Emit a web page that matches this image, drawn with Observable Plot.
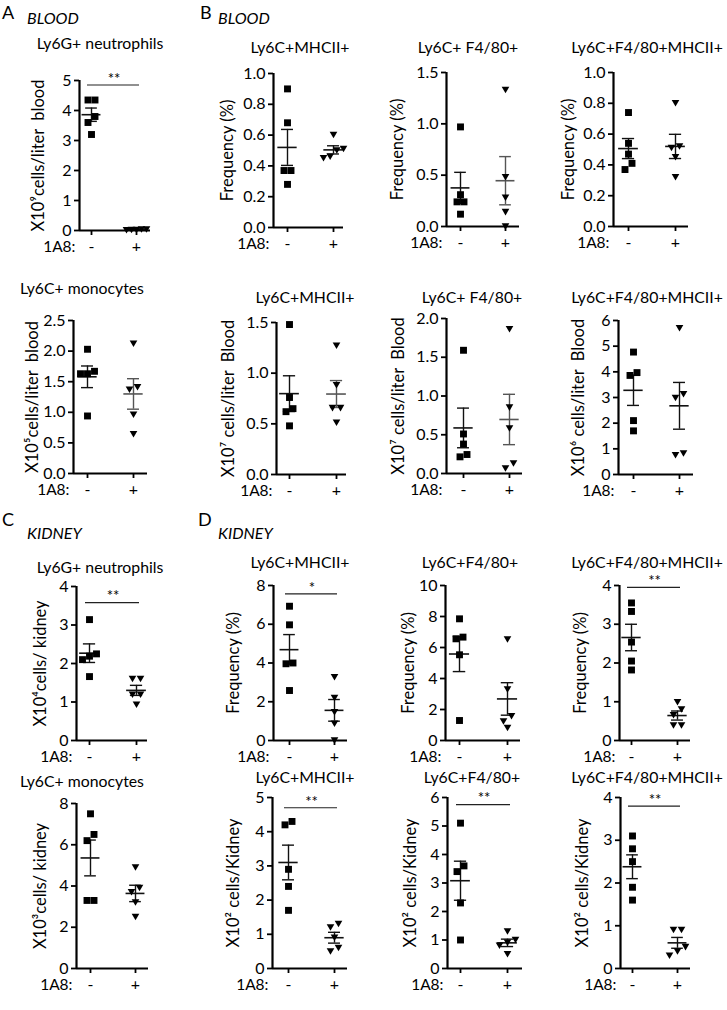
<!DOCTYPE html>
<html><head><meta charset="utf-8">
<script src="https://cdn.jsdelivr.net/npm/d3@7"></script>
<script src="https://cdn.jsdelivr.net/npm/@observablehq/plot@0.6"></script>
<style>
body{margin:0;background:#fff;}
#fig{position:relative;width:727px;height:1010px;font-family:Lato,"Open Sans",sans-serif;color:#000;overflow:hidden;}
.abs{position:absolute;white-space:nowrap;line-height:1;}
.letter{font-size:18px;}
.tissue{font-size:16px;font-style:italic;}
.title{font-size:15.8px;transform:translate(-50%,-50%);}
#fig svg{position:absolute;overflow:visible;}
</style></head><body><div id="fig"></div>
<script>
// ---------------- DATA ----------------
const groupLabels = ["-", "+"];
const xAxisLabel = "1A8:";
const sectionLetters = ["A", "B", "C", "D"];
const sectionTissues = ["BLOOD", "BLOOD", "KIDNEY", "KIDNEY"];
const titles = [
  "Ly6G+ neutrophils", "Ly6C+MHCII+", "Ly6C+ F4/80+", "Ly6C+F4/80+MHCII+",
  "Ly6C+ monocytes", "Ly6C+MHCII+", "Ly6C+ F4/80+", "Ly6C+F4/80+MHCII+",
  "Ly6G+ neutrophils", "Ly6C+MHCII+", "Ly6C+F4/80+", "Ly6C+F4/80+MHCII+",
  "Ly6C+ monocytes", "Ly6C+MHCII+", "Ly6C+F4/80+", "Ly6C+F4/80+MHCII+"
];
const yLabels = [
  "X10⁹cells/liter  blood", "Frequency (%)", "Frequency (%)", "Frequency (%)",
  "X10⁵cells/liter  blood", "X10⁷ cells/liter  Blood", "X10⁷ cells/liter  Blood", "X10⁶ cells/liter  Blood",
  "X10⁴cells/ kidney", "Frequency (%)", "Frequency (%)", "Frequency (%)",
  "X10³cells/ kidney", "X10² cells/Kidney", "X10² cells/Kidney", "X10² cells/Kidney"
];
const yMax  = [5, 1, 1.5, 1,   2.5, 1.5, 2, 6,   4, 8, 10, 4,   8, 5, 6, 4];
const yStep = [1, 0.2, 0.5, 0.2, 0.5, 0.5, 0.5, 1, 1, 2, 2, 1,   2, 1, 1, 1];
const minusValues = [
  [4.35, 4.35, 3.8, 3.6, 3.2],
  [0.90, 0.68, 0.37, 0.37, 0.28],
  [0.97, 0.31, 0.24, 0.24, 0.12],
  [0.74, 0.54, 0.47, 0.41, 0.37],
  [2.03, 1.67, 1.63, 1.63, 0.94],
  [1.48, 0.76, 0.65, 0.62, 0.48],
  [1.59, 0.51, 0.38, 0.245, 0.215],
  [4.77, 3.97, 3.86, 2.10, 1.70],
  [3.14, 2.25, 2.19, 2.10, 1.66],
  [6.93, 5.97, 4.00, 3.96, 2.58],
  [7.85, 6.67, 6.56, 5.53, 1.29],
  [3.55, 3.33, 2.54, 2.05, 1.82],
  [7.5, 6.5, 6.2, 3.3, 3.3],
  [4.3, 4.2, 2.9, 2.4, 1.7],
  [5.1, 3.6, 3.4, 2.3, 1.0],
  [3.1, 2.8, 2.5, 1.9, 1.6]
];
const plusValues = [
  [0.03, 0.03, 0.02, 0.02, 0.01],
  [0.60, 0.51, 0.50, 0.46, 0.45],
  [1.33, 0.48, 0.28, 0.14, 0.0],
  [0.80, 0.52, 0.51, 0.45, 0.32],
  [2.12, 1.41, 1.37, 0.96, 0.64],
  [1.27, 0.88, 0.655, 0.655, 0.51],
  [1.86, 0.85, 0.58, 0.13, 0.065],
  [5.70, 3.13, 2.98, 0.82, 0.75],
  [1.60, 1.60, 1.19, 1.19, 0.93],
  [3.27, 2.19, 1.46, 0.86, 0.0],
  [6.52, 3.29, 1.57, 1.23, 0.80],
  [0.99, 0.80, 0.65, 0.39, 0.39],
  [4.9, 3.9, 3.7, 3.2, 2.5],
  [1.3, 1.2, 0.9, 0.6, 0.5],
  [1.3, 1.0, 0.9, 0.8, 0.5],
  [0.9, 0.9, 0.5, 0.4, 0.3]
];
const sigLabels = ["**", "", "", "",  "", "", "", "",  "**", "*", "", "**",  "", "**", "**", "**"];
const sigLevels = [4.85, null, null, null, null, null, null, null, 3.58, 7.57, null, 3.95, null, 4.7, 5.75, 3.8];

// ---------------- LAYOUT (pixels in page) ----------------
// ax: y-axis x, bx: x-axis end, yt: top tick y, yb: zero y, c0/c1: group centers, tx/ty: title centre, lx: y-label centre x
const layout = [
  {ax:79, bx:150, yt:80, yb:230, c0:91, c1:136, tx:100, ty:43, lx:38},
  {ax:273, bx:343, yt:73, yb:227, c0:287, c1:333, tx:300, ty:47, lx:227},
  {ax:446, bx:519, yt:72, yb:226, c0:460, c1:505, tx:468, ty:47, lx:397},
  {ax:613, bx:688, yt:72, yb:226, c0:628, c1:675, tx:647, ty:47, lx:568},
  {ax:73, bx:147, yt:320, yb:473, c0:87, c1:133, tx:82, ty:288, lx:32},
  {ax:276, bx:346, yt:322, yb:474, c0:289, c1:336, tx:305, ty:297, lx:228},
  {ax:446, bx:522, yt:318, yb:473, c0:463, c1:509, tx:472, ty:297, lx:398},
  {ax:618, bx:693, yt:320, yb:474, c0:633, c1:679, tx:647, ty:297, lx:578},
  {ax:76, bx:147, yt:586, yb:740, c0:89, c1:136, tx:100, ty:567, lx:40},
  {ax:273, bx:347, yt:585, yb:740, c0:289, c1:334, tx:300, ty:562, lx:233},
  {ax:445, bx:520, yt:585, yb:740, c0:459, c1:507, tx:470, ty:562, lx:408},
  {ax:619, bx:690, yt:585, yb:740, c0:631, c1:677, tx:647, ty:562, lx:580},
  {ax:76, bx:148, yt:803, yb:968, c0:90, c1:135, tx:82, ty:781, lx:40},
  {ax:272, bx:347, yt:797, yb:968, c0:288, c1:334, tx:305, ty:777, lx:233},
  {ax:447, bx:522, yt:797, yb:968, c0:460, c1:507, tx:472, ty:777, lx:410},
  {ax:620, bx:690, yt:797, yb:968, c0:632, c1:677, tx:647, ty:777, lx:582}
];
const headerPos = [[2,11,27,18],[200,11,218,18],[2,518,27,533],[198,518,218,533]];
const grayPlus = new Set([2,4,5,6]);

const fig = document.getElementById("fig");
function addDiv(cls, text, x, y) {
  const d = document.createElement("div");
  d.className = "abs " + cls; d.textContent = text;
  d.style.left = x + "px"; d.style.top = y + "px";
  fig.appendChild(d); return d;
}
sectionLetters.forEach((L, i) => {
  const [lx, ly, tx, ty] = headerPos[i];
  addDiv("letter", L, lx, ly - 8);
  addDiv("tissue", sectionTissues[i], tx, ty - 8);
});

const squareSym = {draw(ctx, size) { const s = Math.sqrt(size) / 2; ctx.rect(-s, -s, 2 * s, 2 * s); }};
const triDownSym = {draw(ctx, size) {
  const w = Math.sqrt(size) * 1.08, h = w * 0.85;
  ctx.moveTo(-w / 2, -h / 2); ctx.lineTo(w / 2, -h / 2); ctx.lineTo(0, h / 2); ctx.closePath();
}};

// horizontal spreading of points that would overlap (GraphPad-like scatter)
function spread(values, pxPerUnit, spacingPx, maxSpreadPx) {
  const idx = d3.range(values.length).sort((a, b) => values[a] - values[b]);
  const off = new Array(values.length).fill(0);
  let cluster = [idx[0]];
  const flush = () => {
    const n = cluster.length;
    const sp = n > 1 ? Math.min(spacingPx, maxSpreadPx / (n - 1)) : 0;
    cluster.forEach((k, j) => off[k] = (j - (n - 1) / 2) * sp);
  };
  for (let i = 1; i < idx.length; i++) {
    if ((values[idx[i]] - values[cluster[cluster.length - 1]]) * pxPerUnit < 6.5) cluster.push(idx[i]);
    else { flush(); cluster = [idx[i]]; }
  }
  flush();
  return off;
}

titles.forEach((title, p) => {
  const L = layout[p];
  const mL = 80, mR = 14, mT = 32, mB = 42;
  const unit = L.c1 - L.c0;
  const xDomain = [(L.ax - L.c0) / unit, 1 + (L.bx - L.c1) / unit];
  const pxPerUnit = (L.yb - L.yt) / yMax[p];
  const groups = [minusValues[p], plusValues[p]];
  const rows = [];
  groups.forEach((vals, g) => {
    const off = spread(vals, pxPerUnit, g === 0 ? 7 : 8, 20);
    vals.forEach((v, i) => rows.push({g, v, x: g + off[i] / unit}));
  });
  const stats = groups.map((vals, g) => {
    const m = d3.mean(vals), s = d3.deviation(vals) / Math.sqrt(vals.length);
    return {g, mean: m, lo: m - s, hi: m + s, color: (g === 1 && grayPlus.has(p)) ? "#555" : "#111"};
  });
  const fmt = yStep[p] < 1 ? d3.format(".1f") : d3.format("d");
  const ticks = d3.range(0, yMax[p] + 1e-9, yStep[p]);
  const marks = [
    Plot.ruleX(stats, {x: "g", y1: "lo", y2: "hi", stroke: "color", strokeWidth: 1.4}),
    Plot.ruleY(stats, {y: "lo", x1: d => d.g - 0.13, x2: d => d.g + 0.13, stroke: "color", strokeWidth: 1.4}),
    Plot.ruleY(stats, {y: "hi", x1: d => d.g - 0.13, x2: d => d.g + 0.13, stroke: "color", strokeWidth: 1.4}),
    Plot.ruleY(stats, {y: "mean", x1: d => d.g - 0.21, x2: d => d.g + 0.21, stroke: "color", strokeWidth: 1.6}),
    Plot.dot(rows.filter(d => d.g === 0), {x: "x", y: "v", symbol: squareSym, r: 3.9, fill: "#000", stroke: "none"}),
    Plot.dot(rows.filter(d => d.g === 1), {x: "x", y: "v", symbol: triDownSym, r: 4.0, fill: "#000", stroke: "none"}),
    Plot.axisY({ticks, tickFormat: fmt, tickSize: 5, tickPadding: 3, fontSize: 16, strokeWidth: 1.8, label: null}),
    Plot.axisX({ticks: [0, 1], tickFormat: i => groupLabels[i], tickSize: 5, tickPadding: 5, fontSize: 16, strokeWidth: 1.8, label: null}),
    Plot.ruleX([xDomain[0]], {strokeWidth: 2.2, stroke: "#000"}),
    Plot.ruleY([0], {strokeWidth: 2.2, stroke: "#000"}),
    Plot.text([yLabels[p]], {text: d => d, frameAnchor: "left", rotate: -90, dx: -(L.ax - L.lx), fontSize: 16.5, textAnchor: "middle"}),
    Plot.text([xAxisLabel], {text: d => d, frameAnchor: "bottom-left", textAnchor: "end", dx: -4, dy: 21, fontSize: 15.5})
  ];
  if (sigLabels[p]) {
    marks.push(Plot.ruleY([sigLevels[p]], {x1: 0, x2: 1, insetLeft: -4, insetRight: -3, stroke: "#222", strokeWidth: 1.2}));
    marks.push(Plot.text([sigLabels[p]], {text: d => d, x: (0 + 1) / 2, y: sigLevels[p], dy: -6, fontSize: 15}));
  }
  const chart = Plot.plot({
    width: (L.bx - L.ax) + mL + mR,
    height: (L.yb - L.yt) + mT + mB,
    marginLeft: mL, marginRight: mR, marginTop: mT, marginBottom: mB,
    style: {fontFamily: "Lato, 'Open Sans', sans-serif", background: "transparent", overflow: "visible", color: "#000"},
    x: {domain: xDomain, axis: null},
    y: {domain: [0, yMax[p]], axis: null},
    marks
  });
  chart.style.left = (L.ax - mL) + "px";
  chart.style.top = (L.yt - mT) + "px";
  fig.appendChild(chart);
  addDiv("title", title, L.tx, L.ty);
});
</script></body></html>
